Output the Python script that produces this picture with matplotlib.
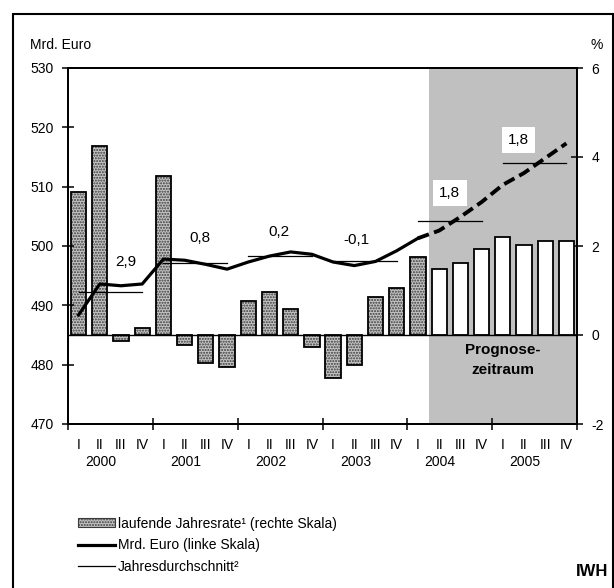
import matplotlib.pyplot as plt
import matplotlib.patches as mpatches
from matplotlib.lines import Line2D
import numpy as np

plt.rcParams['font.family'] = ['Liberation Sans', 'DejaVu Sans']
plt.rcParams['axes.unicode_minus'] = False

# Quartalswerte 2000-2005
years = ['2000', '2001', '2002', '2003', '2004', '2005']
quarters = ['I', 'II', 'III', 'IV']
rate = [3.22, 4.25, -0.13, 0.16, 3.57, -0.22, -0.63, -0.71,
        0.77, 0.96, 0.58, -0.28, -0.96, -0.68, 0.86, 1.05,
        1.76, 1.49, 1.62, 1.93, 2.21, 2.02, 2.12, 2.12]
mrd = [488.4, 493.6, 493.3, 493.6, 497.8, 497.6, 496.9, 496.1,
       497.3, 498.3, 499.0, 498.6, 497.3, 496.7, 497.4, 499.2,
       501.3, 502.6, 504.9, 507.4, 510.3, 512.3, 514.8, 517.3]
year_avg = [492.2, 497.2, 498.25, 497.5, 504.2, 514.0]
year_growth = ['2,9', '0,8', '0,2', '-0,1', '1,8', '1,8']

n_hist = 17          # Quartale mit Istwerten (bis 2004 I)
prog_start = 17      # Beginn Prognosezeitraum

# Lage der Beschriftungen (x relativ zum Jahresbeginn, y ueber Durchschnitt)
lbl_dx = [2.72, 2.23, 1.95, 1.6, 2.0, 1.24]
lbl_dy = [5.1, 4.1, 4.15, 3.5, 4.7, 3.9]

x = np.arange(len(rate)) + 0.5

fig = plt.figure(figsize=(6.14, 5.88), dpi=100)
ax = fig.add_axes([68 / 614, 1 - 424 / 588, 509 / 614, 356 / 588])
axl = ax.twinx()

# Prognosezeitraum hinterlegen
ax.axvspan(prog_start, len(rate), color='#c0c0c0', lw=0, zorder=0)

# Balken: laufende Jahresrate (rechte Skala)
ist = np.array(rate[:n_hist])
prog = np.array(rate[n_hist:])
ax.bar(x[:n_hist], ist, width=0.72, color='#c4c4c4', hatch='......',
       edgecolor='#3a3a3a', lw=0, zorder=2)
ax.bar(x[:n_hist], ist, width=0.72, fill=False, edgecolor='black',
       lw=1.3, zorder=3)
ax.bar(x[n_hist:], prog, width=0.72, color='white', edgecolor='black',
       lw=1.3, zorder=3)
ax.axhline(0, color='black', lw=1.0, zorder=4)

ax.set_xlim(0, len(rate))
ax.set_ylim(-2, 6)
ax.set_yticks([-2, 0, 2, 4, 6])
ax.set_xticks(np.arange(0, len(rate) + 1, 4))
ax.set_xticklabels([])
ax.yaxis.tick_right()
ax.yaxis.set_label_position('right')
ax.tick_params(axis='both', direction='inout', length=9, width=1.1,
               labelsize=10)
ax.tick_params(axis='y', pad=6)
for s in ax.spines.values():
    s.set_linewidth(1.3)

# Linie: Mrd. Euro (linke Skala)
axl.yaxis.tick_left()
axl.yaxis.set_label_position('left')
axl.set_ylim(470, 530)
axl.set_yticks(np.arange(470, 531, 10))
axl.tick_params(axis='y', direction='inout', length=9, width=1.1,
                labelsize=10, pad=6)
for s in axl.spines.values():
    s.set_linewidth(1.3)
axl.plot(x[:n_hist], mrd[:n_hist], color='black', lw=2.3,
         solid_joinstyle='round', zorder=5)
axl.plot(x[n_hist - 1:], mrd[n_hist - 1:], color='black', lw=2.8,
         ls=(0, (3.0, 1.4)), zorder=5)

# Jahresdurchschnitte mit Veraenderungsraten
for k, (avg, txt) in enumerate(zip(year_avg, year_growth)):
    axl.plot([4 * k + 0.5, 4 * k + 3.5], [avg, avg], color='black',
             lw=0.9, zorder=4)
    box = None
    if 4 * k >= prog_start - 1:
        box = dict(facecolor='white', edgecolor='none', pad=4.5)
    axl.text(4 * k + lbl_dx[k], avg + lbl_dy[k], txt, ha='center',
             va='center', fontsize=11, bbox=box, zorder=6)

axl.text(20.5, 0.18, 'Prognose-\nzeitraum', transform=ax.get_xaxis_transform(),
         ha='center', va='center', fontsize=11, fontweight='bold',
         linespacing=1.55)

# Quartals- und Jahresbeschriftung
xt = ax.get_xaxis_transform()
for i in range(len(rate)):
    ax.text(x[i], -0.059, quarters[i % 4], transform=xt, ha='center',
            va='center', fontsize=10)
for k, yr in enumerate(years):
    ax.text(4 * k + 1.55, -0.107, yr, transform=xt, ha='center',
            va='center', fontsize=10)

fig.text(30 / 614, 1 - 45 / 588, 'Mrd. Euro', ha='left', va='center',
         fontsize=10)
fig.text(597 / 614, 1 - 45 / 588, '%', ha='center', va='center',
         fontsize=10)

# Legende
handles = [
    mpatches.Patch(facecolor='#c4c4c4', hatch='......', edgecolor='#3a3a3a',
                   lw=0.8),
    Line2D([], [], color='black', lw=2.3),
    Line2D([], [], color='black', lw=0.9),
]
labels = ['laufende Jahresrate¹ (rechte Skala)', 'Mrd. Euro (linke Skala)',
          'Jahresdurchschnitt²']
fig.legend(handles, labels, loc='upper left',
           bbox_to_anchor=(72 / 614, 1 - 511 / 588), frameon=False,
           fontsize=10, handlelength=2.7, handleheight=0.6,
           handletextpad=0.2, labelspacing=0.55, borderaxespad=0)

fig.text(608 / 614, 1 - 572 / 588, 'IWH', ha='right', va='center',
         fontsize=12, fontweight='bold')

# Rahmen
fig.patches.append(mpatches.Rectangle((13 / 614, -0.05), 600 / 614,
                                      1 - 14 / 588 + 0.05,
                                      transform=fig.transFigure, fill=False,
                                      edgecolor='black', lw=1.5))

fig.savefig('out.png', dpi=100)
